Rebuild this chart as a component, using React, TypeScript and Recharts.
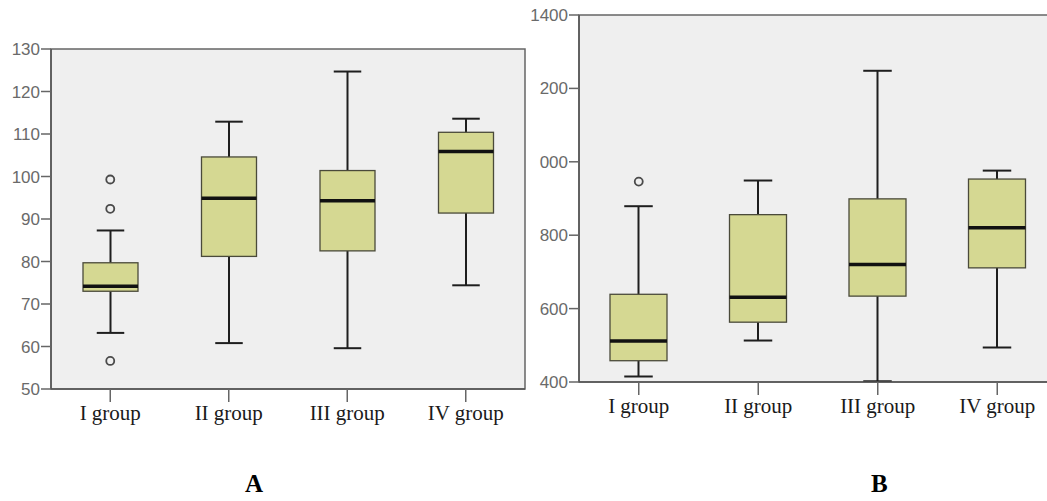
import React from "react";
import { ComposedChart, Bar, Line, XAxis, YAxis, CartesianGrid, ReferenceArea } from "recharts";

// ─── data ───────────────────────────────────────────────────────────────
const GROUPS = ["I group", "II group", "III group", "IV group"];

// panel A
const A_MIN = [63.2, 60.8, 59.6, 74.4];
const A_Q1 = [73.0, 81.2, 82.5, 91.4];
const A_MED = [74.2, 94.9, 94.3, 105.9];
const A_Q3 = [79.7, 104.6, 101.4, 110.4];
const A_MAX = [87.3, 112.9, 124.7, 113.6];
const A_OUTLIERS = [[99.3, 92.4, 56.6], [], [], []];
const A_TICKS = [50, 60, 70, 80, 90, 100, 110, 120, 130];

// panel B
const B_MIN = [415, 513, 402, 494];
const B_Q1 = [458, 563, 634, 711];
const B_MED = [512, 631, 720, 820];
const B_Q3 = [639, 856, 899, 953];
const B_MAX = [879, 949, 1248, 976];
const B_OUTLIERS = [[946], [], [], []];
const B_TICKS = [400, 600, 800, 1000, 1200, 1400];
const B_TICK_LABELS = ["400", "600", "800", "000", "200", "1400"];

const BOX_FILL = "#d5d892";
const PLOT_BG = "#efefef";

function buildRows(mins: number[], q1: number[], med: number[], q3: number[], max: number[], outs: number[][]) {
  return GROUPS.map((name, i) => {
    const row: any = { name, min: mins[i], q1: q1[i], median: med[i], q3: q3[i], max: max[i], box: [q1[i], q3[i]] };
    for (let k = 0; k < 3; k++) row[`out${k}`] = outs[i][k] ?? null;
    return row;
  });
}

const dataA = buildRows(A_MIN, A_Q1, A_MED, A_Q3, A_MAX, A_OUTLIERS);
const dataB = buildRows(B_MIN, B_Q1, B_MED, B_Q3, B_MAX, B_OUTLIERS);

// box + whiskers drawn from the bar's own (linear) pixel span of q1..q3
const BoxShape = (props: any) => {
  const { x, y, width, height, payload } = props;
  if (!payload) return null;
  const top = Math.min(y, y + height);
  const h = Math.abs(height);
  const { min, q1, median, q3, max } = payload;
  const py = (v: number) => top + (h * (q3 - v)) / (q3 - q1);
  const cx = x + width / 2;
  const cap = width / 4;
  return (
    <g>
      <line x1={cx} x2={cx} y1={py(max)} y2={py(q3)} stroke="#1e1e1e" strokeWidth={2} />
      <line x1={cx} x2={cx} y1={py(q1)} y2={py(min)} stroke="#1e1e1e" strokeWidth={2} />
      <line x1={cx - cap} x2={cx + cap} y1={py(max)} y2={py(max)} stroke="#1e1e1e" strokeWidth={2} />
      <line x1={cx - cap} x2={cx + cap} y1={py(min)} y2={py(min)} stroke="#1e1e1e" strokeWidth={2} />
      <rect x={x} y={top} width={width} height={h} fill={BOX_FILL} stroke="#4a4a3a" strokeWidth={1.3} />
      <line x1={x} x2={x + width} y1={py(median)} y2={py(median)} stroke="#111" strokeWidth={3.5} />
    </g>
  );
};

const yTickStyle = { fontFamily: "Liberation Sans, Arial, sans-serif", fontSize: 17, fill: "#6a6a6a" };
const xTickStyle = { fontFamily: "Liberation Serif, Times New Roman, serif", fontSize: 21, fill: "#1a1a1a" };
const outlierDot = { r: 4, fill: PLOT_BG, stroke: "#4a4a4a", strokeWidth: 1.8 };

function BoxPanel({ data, domain, ticks, tickFmt, width, height, margin, yWidth, barSize }: any) {
  return (
    <ComposedChart width={width} height={height} data={data} margin={margin}>
      <CartesianGrid fill={PLOT_BG} horizontal={false} vertical={false} />
      <ReferenceArea y1={domain[0]} y2={domain[1]} fill="none" stroke="#666" strokeWidth={1.5} />
      <XAxis
        dataKey="name"
        tick={xTickStyle}
        tickSize={13}
        tickMargin={3}
        height={40}
        tickLine={{ stroke: "#666", strokeWidth: 1.5 }}
        axisLine={{ stroke: "#555", strokeWidth: 1.5 }}
      />
      <YAxis
        domain={domain}
        ticks={ticks}
        tickFormatter={tickFmt}
        width={yWidth}
        tick={yTickStyle}
        tickSize={10}
        tickMargin={1}
        tickLine={{ stroke: "#666", strokeWidth: 1.5 }}
        axisLine={{ stroke: "#555", strokeWidth: 1.5 }}
        allowDataOverflow
      />
      <Bar dataKey="box" barSize={barSize} shape={BoxShape} isAnimationActive={false} />
      {[0, 1, 2].map((k) => (
        <Line
          key={k}
          dataKey={`out${k}`}
          stroke="none"
          dot={outlierDot}
          activeDot={false}
          connectNulls={false}
          isAnimationActive={false}
        />
      ))}
    </ComposedChart>
  );
}

export default function App() {
  return (
    <div style={{ position: "absolute", left: 0, top: 0, width: 1047, height: 501, overflow: "hidden", background: "#fff" }}>
      <div style={{ position: "absolute", left: 0, top: 0 }}>
        <BoxPanel
          data={dataA}
          domain={[50, 130]}
          ticks={A_TICKS}
          tickFmt={(v: number) => String(v)}
          width={540}
          height={460}
          margin={{ top: 49, right: 15, left: 0, bottom: 31 }}
          yWidth={51}
          barSize={55}
        />
      </div>
      <div style={{ position: "absolute", left: 527, top: 0 }}>
        <BoxPanel
          data={dataB}
          domain={[400, 1400]}
          ticks={B_TICKS}
          tickFmt={(v: number) => B_TICK_LABELS[B_TICKS.indexOf(v)]}
          width={540}
          height={460}
          margin={{ top: 15, right: 10, left: 0, bottom: 38 }}
          yWidth={52}
          barSize={57}
        />
      </div>
      <div style={{ position: "absolute", left: 245, top: 470, fontFamily: "Liberation Serif, serif", fontWeight: "bold", fontSize: 25 }}>A</div>
      <div style={{ position: "absolute", left: 871, top: 470, fontFamily: "Liberation Serif, serif", fontWeight: "bold", fontSize: 25 }}>B</div>
    </div>
  );
}
